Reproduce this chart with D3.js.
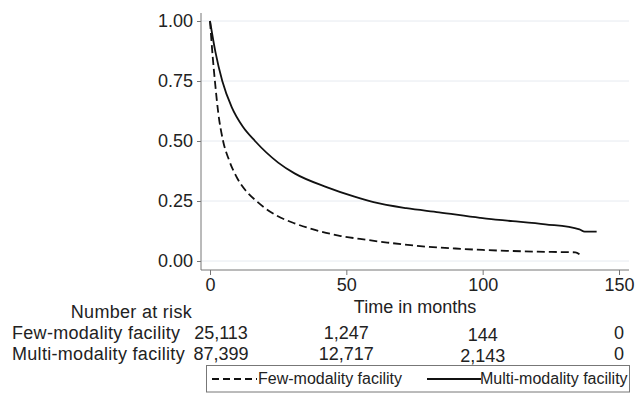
<!DOCTYPE html>
<html>
<head>
<meta charset="utf-8">
<script src="https://cdn.jsdelivr.net/npm/d3@7"></script>
<style>
  body { margin: 0; background: #fff; }
  text { font-family: "Liberation Sans", Arial, Helvetica, sans-serif; fill: #222; }
</style>
</head>
<body>
<div id="chart"></div>
<script>
// survival curves (months, proportion surviving)
var fewTime = [0, 1, 1.8, 3, 4.8, 7, 10, 13, 17, 20, 24, 31, 40, 48, 55, 65, 77, 90, 100, 110, 120, 130, 134, 135.5];
var fewSurv = [1.0, 0.85, 0.75, 0.62, 0.50, 0.42, 0.345, 0.295, 0.25, 0.222, 0.192, 0.157, 0.125, 0.104, 0.092, 0.077, 0.062, 0.052, 0.046, 0.042, 0.039, 0.037, 0.036, 0.028];
var multiTime = [0, 2, 4.5, 8, 12, 16.5, 25, 31, 43, 53, 60, 72, 84, 99, 106, 111, 123, 135.5, 137.4, 141.8];
var multiSurv = [1.0, 0.87, 0.75, 0.64, 0.56, 0.50, 0.41, 0.365, 0.307, 0.268, 0.245, 0.22, 0.203, 0.18, 0.171, 0.166, 0.153, 0.132, 0.122, 0.122];

var yTicks = [0, 0.25, 0.5, 0.75, 1.0];
var xTicks = [0, 50, 100, 150];
var riskTimes = [0, 50, 100, 150];
var riskGroups = ["Few-modality facility", "Multi-modality facility"];
var riskFew = ["25,113", "1,247", "144", "0"];
var riskMulti = ["87,399", "12,717", "2,143", "0"];

var svgWidth = 636;
var svgHeight = 393;
var fs = 18;

var svg = d3.select("#chart")
  .append("svg")
  .attr("width", svgWidth)
  .attr("height", svgHeight);

var plotLeft = 201, plotRight = 629, plotTop = 13, plotBottom = 270;

var x = d3.scaleLinear().domain([0, 150]).range([210, 619]);
var y = d3.scaleLinear().domain([0, 1]).range([261, 21]);

// gridlines
svg.append("g")
  .selectAll("line")
  .data(yTicks)
  .enter()
  .append("line")
  .attr("x1", plotLeft)
  .attr("x2", plotRight)
  .attr("y1", function(d) { return y(d); })
  .attr("y2", function(d) { return y(d); })
  .attr("stroke", "#e6eaf0")
  .attr("stroke-width", 1);

// y axis
var leftAxis = d3.axisLeft(y)
  .tickValues(yTicks)
  .tickFormat(d3.format(".2f"))
  .tickSize(4)
  .tickPadding(4);

var yAxisG = svg.append("g")
  .attr("transform", "translate(" + plotLeft + ",0)")
  .call(leftAxis);
yAxisG.select(".domain").remove();
yAxisG.append("line")
  .attr("x1", 0).attr("x2", 0)
  .attr("y1", plotTop).attr("y2", plotBottom)
  .attr("stroke", "#777");
yAxisG.selectAll(".tick line").attr("stroke", "#777");
yAxisG.selectAll(".tick text")
  .attr("font-size", fs)
  .attr("fill", "#222");

// x axis
var bottomAxis = d3.axisBottom(x)
  .tickValues(xTicks)
  .tickSize(5)
  .tickPadding(3);

var xAxisG = svg.append("g")
  .attr("transform", "translate(0," + plotBottom + ")")
  .call(bottomAxis);
xAxisG.select(".domain").remove();
xAxisG.append("line")
  .attr("x1", plotLeft).attr("x2", plotRight)
  .attr("y1", 0).attr("y2", 0)
  .attr("stroke", "#777");
xAxisG.selectAll(".tick line").attr("stroke", "#777");
xAxisG.selectAll(".tick text")
  .attr("font-size", fs)
  .attr("fill", "#222");

svg.append("text")
  .attr("x", (plotLeft + plotRight) / 2)
  .attr("y", 313)
  .attr("text-anchor", "middle")
  .attr("font-size", fs)
  .text("Time in months");

// curves
var line = d3.line()
  .curve(d3.curveMonotoneX)
  .x(function(d) { return x(d[0]); })
  .y(function(d) { return y(d[1]); });

var fewData = fewTime.map(function(t, i) { return [t, fewSurv[i]]; });
var multiData = multiTime.map(function(t, i) { return [t, multiSurv[i]]; });

svg.append("path")
  .datum(fewData)
  .attr("d", line)
  .attr("fill", "none")
  .attr("stroke", "#111")
  .attr("stroke-width", 1.8)
  .attr("stroke-dasharray", "8,4");

svg.append("path")
  .datum(multiData)
  .attr("d", line)
  .attr("fill", "none")
  .attr("stroke", "#111")
  .attr("stroke-width", 1.8);

// number at risk table
svg.append("text")
  .attr("x", 192)
  .attr("y", 318)
  .attr("text-anchor", "end")
  .attr("font-size", fs)
  .attr("letter-spacing", 0.3)
  .text("Number at risk");

var rowY = [339, 360];
riskGroups.forEach(function(g, r) {
  svg.append("text")
    .attr("x", 12)
    .attr("y", rowY[r])
    .attr("font-size", fs)
    .attr("letter-spacing", 0.3)
    .text(g);
  var vals = r === 0 ? riskFew : riskMulti;
  riskTimes.forEach(function(t, i) {
    svg.append("text")
      .attr("x", i === 0 ? x(t) + 11 : x(t))
      .attr("y", rowY[r] + (t === 100 ? 2 : 0))
      .attr("text-anchor", "middle")
      .attr("font-size", fs)
      .text(vals[i]);
  });
});

// legend
var legend = svg.append("g");
legend.append("rect")
  .attr("x", 206.5)
  .attr("y", 365.5)
  .attr("width", 423)
  .attr("height", 26.5)
  .attr("fill", "#fff")
  .attr("stroke", "#777")
  .attr("stroke-width", 1);

legend.append("line")
  .attr("x1", 212).attr("x2", 257)
  .attr("y1", 379).attr("y2", 379)
  .attr("stroke", "#111")
  .attr("stroke-width", 1.8)
  .attr("stroke-dasharray", "7,4");
legend.append("text")
  .attr("x", 258)
  .attr("y", 384)
  .attr("font-size", 16)
  .text("Few-modality facility");

legend.append("line")
  .attr("x1", 427).attr("x2", 481)
  .attr("y1", 379).attr("y2", 379)
  .attr("stroke", "#111")
  .attr("stroke-width", 1.8);
legend.append("text")
  .attr("x", 480)
  .attr("y", 384)
  .attr("font-size", 16)
  .text("Multi-modality facility");
</script>
</body>
</html>
